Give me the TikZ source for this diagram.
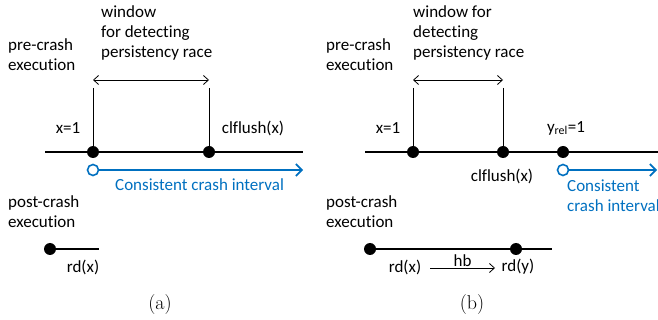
\documentclass[tikz,border=0pt]{standalone}
\usepackage{fontspec}
\setmainfont{Carlito}[Ligatures=NoCommon]
\newfontfamily\capfont{Latin Modern Roman}
\definecolor{crashblue}{RGB}{0,112,192}
\usetikzlibrary{arrows.meta}

\begin{document}
\begin{tikzpicture}[x=1pt, y=-1pt, font=\fontsize{17}{20}\selectfont,
  >={Straight Barb[length=5pt,width=9pt]},
  dot/.style = {circle, fill, inner sep=0pt, minimum size=12pt},
  hollow/.style = {circle, draw=crashblue, fill=white, line width=1.6pt, inner sep=0pt, minimum size=11pt},
  txt/.style = {anchor=west, align=left, inner sep=0pt},
  axis/.style = {line width=2pt},
  sublabel/.style = {font=\capfont\fontsize{20}{22}\selectfont}]

\useasboundingbox (0,0) rectangle (658,320);

% (a)
\node[txt] (pre1) at (8,55) {pre-crash\\execution};
\node[txt] (win1) at (101,33) {window\\for detecting\\persistency race};
\coordinate (s1) at (45,152);
\coordinate (e1) at (303,152);
\draw[axis] (s1) -- (e1);
\node[dot] (1) at (93,152) {};
\node[dot] (2) at (209,152) {};
\coordinate (t1) at (93,88);
\coordinate (t2) at (209,88);
\draw[line width=1pt] (t1) -- (1);
\draw[line width=1pt] (t2) -- (2);
\coordinate (w1l) at (93,80);
\coordinate (w1r) at (209,80);
\draw[<->, line width=0.8pt] (w1l) -- (w1r);
\node (x1) at (68,128) {x=1};
\node (fl1) at (253,128) {clflush(x)};
\node[hollow] (c1) at (93,170) {};
\coordinate (ce1) at (303,170);
\draw[->, crashblue, line width=1.6pt, >={Straight Barb[length=6pt,width=12pt]}] (c1) -- (ce1);
\node[txt, crashblue] (cci1) at (115,185) {Consistent crash interval};
\node[txt] (post1) at (8,212) {post-crash\\execution};
\node[dot] (3) at (50,249) {};
\coordinate (re1) at (99,249);
\draw[axis] (3) -- (re1);
\node (rd1) at (83,267) {rd(x)};
\node[sublabel] (capa) at (160,305) {(a)};

% (b)
\node[txt] (pre2) at (326,55) {pre-crash\\execution};
\node[txt] (win2) at (413,33) {window for\\detecting\\persistency race};
\coordinate (s2) at (365,152);
\coordinate (e2) at (665,152);
\draw[axis] (s2) -- (e2);
\node[dot] (4) at (413,152) {};
\node[dot] (5) at (503,152) {};
\node[dot] (6) at (563,152) {};
\coordinate (t4) at (413,88);
\coordinate (t5) at (503,88);
\draw[line width=1pt] (t4) -- (4);
\draw[line width=1pt] (t5) -- (5);
\coordinate (w2l) at (413,80);
\coordinate (w2r) at (503,80);
\draw[<->, line width=0.8pt] (w2l) -- (w2r);
\node (x2) at (388,128) {x=1};
\node (y2) at (566,128) {y\textsubscript{rel}=1};
\node (fl2) at (502,176) {clflush(x)};
\node[hollow] (c2) at (563,170) {};
\coordinate (ce2) at (657,170);
\draw[->, crashblue, line width=1.6pt, >={Straight Barb[length=6pt,width=12pt]}] (c2) -- (ce2);
\node[txt, crashblue] (cci2) at (567,196) {Consistent\\crash interval};
\node[txt] (post2) at (326,212) {post-crash\\execution};
\coordinate (re2) at (552,249);
\node[dot] (7) at (370,249) {};
\draw[axis] (7) -- (re2);
\node[dot] (8) at (516,249) {};
\node (rd2) at (405,267) {rd(x)};
\node (rd3) at (518,267) {rd(y)};
\coordinate (hbl) at (430,268);
\coordinate (hbr) at (495,268);
\draw[->, line width=0.8pt] (hbl) -- node[above, inner sep=1pt] {hb} (hbr);
\node[sublabel] (capb) at (472,305) {(b)};

\end{tikzpicture}
\end{document}
